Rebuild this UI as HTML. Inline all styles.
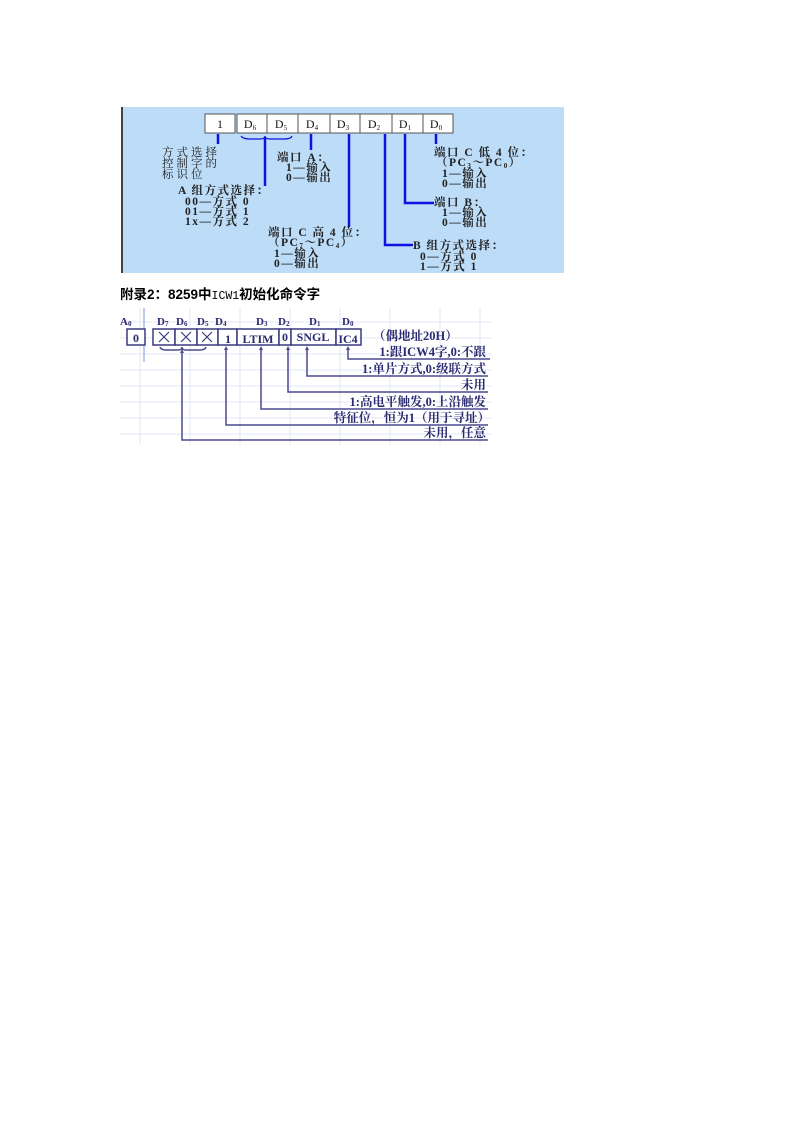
<!DOCTYPE html>
<html><head><meta charset="utf-8"><style>
html,body{margin:0;padding:0;background:#fff;}
svg{display:block;}
.c{font-family:"Liberation Serif","Noto Serif CJK SC","Noto Sans CJK SC",serif;}
</style></head><body>
<svg width="794" height="1123" viewBox="0 0 794 1123" xmlns="http://www.w3.org/2000/svg">
<rect x="121" y="107" width="443" height="166" fill="#bcdcf8"/>
<rect x="121" y="107" width="2" height="166" fill="#444"/>
<g stroke="#555" stroke-width="1" fill="#fff">
<rect x="205" y="114" width="30" height="19"/>
<rect x="237" y="114" width="30" height="19"/>
<rect x="267" y="114" width="31" height="19"/>
<rect x="298" y="114" width="32" height="19"/>
<rect x="330" y="114" width="30" height="19"/>
<rect x="360" y="114" width="32" height="19"/>
<rect x="392" y="114" width="31" height="19"/>
<rect x="423" y="114" width="30" height="19"/>
</g>
<g class="c" font-size="12" fill="#111" text-anchor="middle">
<text x="220" y="128">1</text>
<text x="250" y="128">D<tspan font-size="7" dy="2">6</tspan></text>
<text x="281" y="128">D<tspan font-size="7" dy="2">5</tspan></text>
<text x="312" y="128">D<tspan font-size="7" dy="2">4</tspan></text>
<text x="343" y="128">D<tspan font-size="7" dy="2">3</tspan></text>
<text x="374" y="128">D<tspan font-size="7" dy="2">2</tspan></text>
<text x="405" y="128">D<tspan font-size="7" dy="2">1</tspan></text>
<text x="436" y="128">D<tspan font-size="7" dy="2">0</tspan></text>
</g>
<g stroke="#1010e0" stroke-width="2.5" fill="none">
<line x1="218" y1="134" x2="218" y2="144"/>
<line x1="265" y1="138" x2="265" y2="186"/>
<line x1="311" y1="134" x2="311" y2="150"/>
<line x1="349" y1="134" x2="349" y2="227"/>
<polyline points="385,134 385,245 413,245"/>
<polyline points="405,134 405,203 434,203"/>
<line x1="436" y1="134" x2="436" y2="144"/>
</g>
<path d="M241,136 Q243,139 250,139 L260,139 Q265,139 265,136 Q265,139 270,139 L284,139 Q291,139 292,136" stroke="#1010e0" stroke-width="1.2" fill="none"/>
<g class="c" font-size="11.5" fill="#222" letter-spacing="1.5">
<text x="162" y="156" letter-spacing="3">方式选择</text>
<text x="162" y="167" letter-spacing="3">控制字的</text>
<text x="162" y="178" letter-spacing="3">标识位</text>
<text x="178" y="194" font-weight="bold">A 组方式选择：</text>
<text x="185" y="205" font-weight="bold">00—方式 0</text>
<text x="185" y="215" font-weight="bold">01—方式 1</text>
<text x="185" y="225" font-weight="bold">1x—方式 2</text>
<text x="277" y="161" font-weight="bold">端口 A：</text>
<text x="286" y="171" font-weight="bold">1—输入</text>
<text x="286" y="181" font-weight="bold">0—输出</text>
<text x="268" y="236" font-weight="bold">端口 C 高 4 位：</text>
<text x="268" y="246" font-weight="bold">（PC<tspan font-size="7" dy="2">7</tspan><tspan dy="-2">～PC</tspan><tspan font-size="7" dy="2">4</tspan><tspan dy="-2">）</tspan></text>
<text x="274" y="257" font-weight="bold">1—输入</text>
<text x="274" y="267" font-weight="bold">0—输出</text>
<text x="413" y="249" font-weight="bold">B 组方式选择：</text>
<text x="420" y="260" font-weight="bold">0—方式 0</text>
<text x="420" y="270" font-weight="bold">1—方式 1</text>
<text x="434" y="156" font-weight="bold">端口 C 低 4 位：</text>
<text x="436" y="166" font-weight="bold">（PC<tspan font-size="7" dy="2">3</tspan><tspan dy="-2">～PC</tspan><tspan font-size="7" dy="2">0</tspan><tspan dy="-2">）</tspan></text>
<text x="442" y="177" font-weight="bold">1—输入</text>
<text x="442" y="187" font-weight="bold">0—输出</text>
<text x="434" y="206" font-weight="bold">端口 B：</text>
<text x="442" y="216" font-weight="bold">1—输入</text>
<text x="442" y="226" font-weight="bold">0—输出</text>
</g>
<text x="120" y="299" font-family="'Liberation Sans','Noto Sans CJK SC',sans-serif" font-size="13.5" font-weight="bold" fill="#000">附录2：8259中<tspan font-weight="normal" font-family="'Liberation Mono',monospace" font-size="11.5">ICW1</tspan>初始化命令字</text>
<g stroke="#e4e4f4" stroke-width="1">
<line x1="120" y1="322" x2="492" y2="322"/><line x1="120" y1="338" x2="492" y2="338"/>
<line x1="120" y1="354" x2="492" y2="354"/><line x1="120" y1="370" x2="492" y2="370"/>
<line x1="120" y1="386" x2="492" y2="386"/><line x1="120" y1="402" x2="492" y2="402"/>
<line x1="120" y1="418" x2="492" y2="418"/><line x1="120" y1="434" x2="492" y2="434"/>
<line x1="140" y1="308" x2="140" y2="445"/><line x1="190" y1="308" x2="190" y2="445"/>
<line x1="240" y1="308" x2="240" y2="445"/><line x1="290" y1="308" x2="290" y2="445"/>
<line x1="340" y1="308" x2="340" y2="445"/><line x1="390" y1="308" x2="390" y2="445"/>
<line x1="440" y1="308" x2="440" y2="445"/><line x1="480" y1="308" x2="480" y2="445"/>
</g>
<line x1="144" y1="308" x2="144" y2="362" stroke="#a8b8e8" stroke-width="1.5"/>
<g class="c" font-size="11" font-weight="bold" fill="#2a2a70">
<text x="120" y="325">A<tspan font-size="7" dy="1">0</tspan></text>
<text x="157" y="325">D<tspan font-size="7" dy="1">7</tspan></text>
<text x="176" y="325">D<tspan font-size="7" dy="1">6</tspan></text>
<text x="197" y="325">D<tspan font-size="7" dy="1">5</tspan></text>
<text x="215" y="325">D<tspan font-size="7" dy="1">4</tspan></text>
<text x="256" y="325">D<tspan font-size="7" dy="1">3</tspan></text>
<text x="278" y="325">D<tspan font-size="7" dy="1">2</tspan></text>
<text x="309" y="325">D<tspan font-size="7" dy="1">1</tspan></text>
<text x="342" y="325">D<tspan font-size="7" dy="1">0</tspan></text>
</g>
<g stroke="#3a3a80" stroke-width="1.5" fill="#fff">
<rect x="127" y="329" width="18" height="16"/>
<rect x="153" y="329" width="22" height="16"/>
<rect x="175" y="329" width="22" height="16"/>
<rect x="197" y="329" width="21" height="16"/>
<rect x="218" y="329" width="19" height="16"/>
<rect x="237" y="329" width="42" height="16"/>
<rect x="279" y="329" width="12" height="16"/>
<rect x="291" y="329" width="45" height="16"/>
<rect x="336" y="329" width="25" height="16"/>
</g>
<g stroke="#3a3a80" stroke-width="1.2">
<path d="M159,332 l10,10 M169,332 l-10,10 M181,332 l10,10 M191,332 l-10,10 M202,332 l10,10 M212,332 l-10,10"/>
</g>
<g class="c" font-size="12" font-weight="bold" fill="#2a2a70" text-anchor="middle">
<text x="136" y="342">0</text>
<text x="228" y="343">1</text>
<text x="258" y="343">LTIM</text>
<text x="285" y="341">0</text>
<text x="313" y="341">SNGL</text>
<text x="348" y="343">IC4</text>
</g>
<g stroke="#4a4a90" stroke-width="1.5" fill="none">
<path d="M160,347 Q161,350 166,350 L178,350 Q182,350 182,347 Q182,350 186,350 L200,350 Q205,350 206,347"/>
<polyline points="182,352 182,440 488,440"/>
<polyline points="226,348 226,425 488,425"/>
<polyline points="261,348 261,409 488,409"/>
<polyline points="288,348 288,392 488,392"/>
<polyline points="307,348 307,376 488,376"/>
<polyline points="348,348 348,359 490,359"/>
</g>
<g fill="#4a4a90">
<path d="M182,349 l-2,4 h4z M226,346 l-2,4 h4z M261,346 l-2,4 h4z M288,346 l-2,4 h4z M307,346 l-2,4 h4z M348,346 l-2,4 h4z"/>
</g>
<g class="c" font-size="12.5" font-weight="bold" fill="#2a2a70">
<text x="373" y="340">（偶地址20H）</text>
<g text-anchor="end">
<text x="486" y="356">1:跟ICW4字,0:不跟</text>
<text x="486" y="373">1:单片方式,0:级联方式</text>
<text x="486" y="389">未用</text>
<text x="486" y="406">1:高电平触发,0:上沿触发</text>
<text x="490" y="422">特征位，恒为1（用于寻址）</text>
<text x="486" y="437">未用，任意</text>
</g>
</g>
</svg>
</body></html>
